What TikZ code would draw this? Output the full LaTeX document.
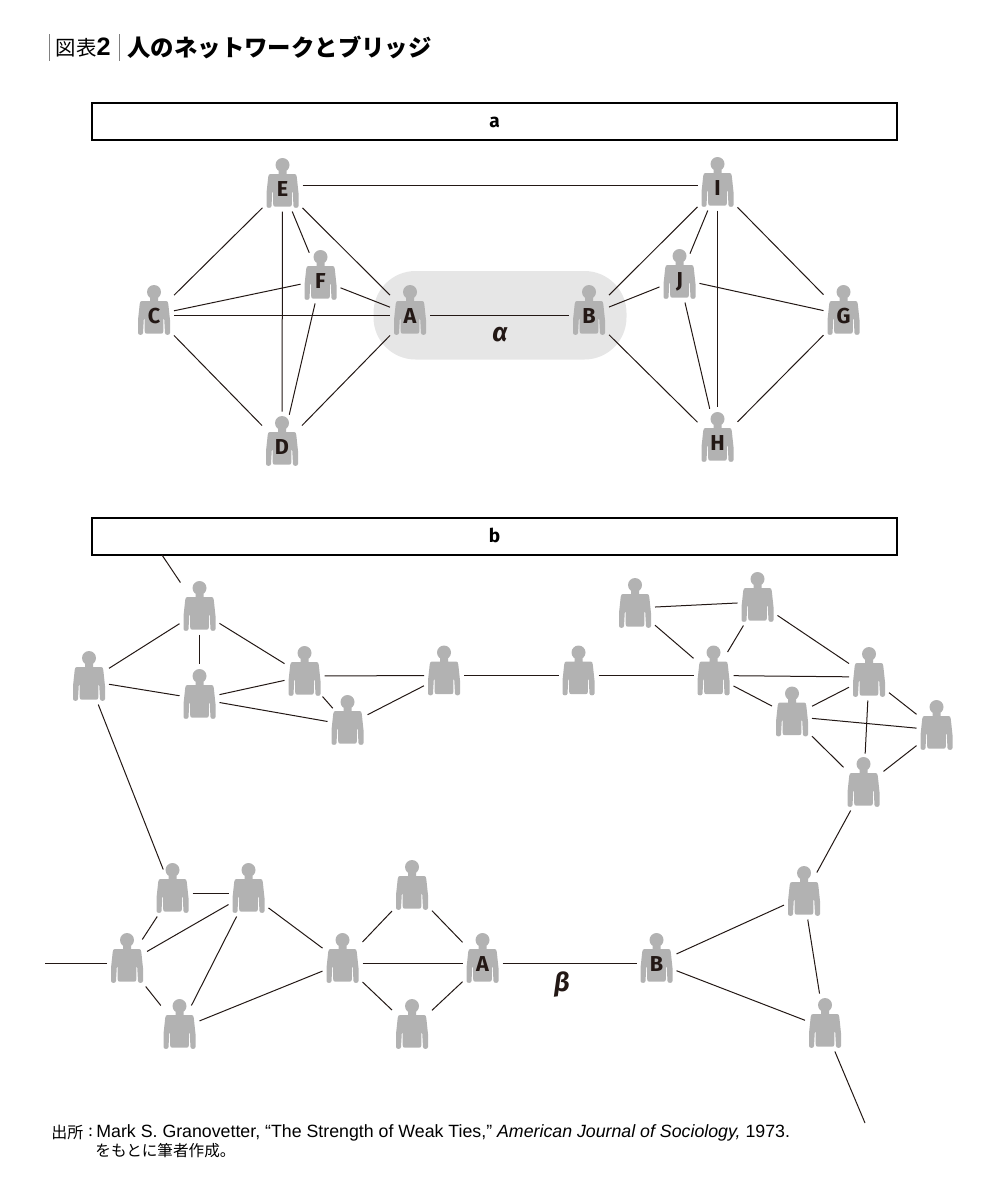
\documentclass[tikz,border=0pt]{standalone}
\usepackage{fontspec}
\setmainfont{Fira Sans}
\newfontfamily\cjk{Noto Sans CJK JP}
\newfontfamily\footfont{Liberation Sans}
\definecolor{figgray}{RGB}{178,178,178}
\definecolor{pillgray}{RGB}{230,230,230}
\definecolor{inkblack}{RGB}{35,24,21}
\tikzset{
    person/.style={draw=none, rectangle, inner sep=0pt, outer sep=0pt, minimum width=20pt, minimum height=23.5pt, text height=8pt, text depth=0pt, font=\fontsize{10.8}{11}\bfseries, text=inkblack},
    link/.style={inkblack, line width=0.5pt},
    tohead/.style={shorten >=#1},
    headbox/.style={draw=black, line width=1pt, rectangle, minimum width=402.5pt, minimum height=18.25pt, inner sep=0pt, text height=6.4pt, text depth=0pt, font=\fontsize{9.5}{10}\bfseries},
    greek/.style={inner sep=0pt, font=\fontsize{13}{13}\bfseries\itshape, text=inkblack},
    bar/.style={line width=0.5pt, gray}
}
\newcommand{\person}[4]{
    \fill[figgray, shift={(#2,#3)}] (0,-23) circle (7)
        (-4,-18) -- (4,-18) -- (4,-14) -- (12,-14) .. controls (13.5,-14) and (14,-13) .. (14.3,-11)
        -- (16,5) -- (16,18) .. controls (16,20.5) and (11,20.5) .. (11,18) -- (10.2,4) -- (9.4,4) -- (9.4,16)
        .. controls (9.4,18) and (8.5,18.7) .. (7,18.7) -- (-7,18.7) .. controls (-8.5,18.7) and (-9.4,18) .. (-9.4,16)
        -- (-9.4,4) -- (-10.2,4) -- (-11,18) .. controls (-11,20.5) and (-16,20.5) .. (-16,18) -- (-16,5)
        -- (-14.3,-11) .. controls (-14,-13) and (-13.5,-14) .. (-12,-14) -- (-4,-14) -- cycle;
    \node[person] (#1) at (#2,#3) {#4};
}
\begin{document}
\begin{tikzpicture}[x=0.5pt, y=-0.5pt]
    \useasboundingbox (0,0) rectangle (1000,1183);

    % title
    \draw[bar] (49.5,34) -- (49.5,61);
    \draw[bar] (119,34) -- (119,61);
    \node[anchor=west, inner sep=0pt] (title-no) at (55.5,48) {\fontsize{10.2}{11}\cjk 図表\bfseries\fontsize{12.6}{13}\fontspec{Liberation Sans}2};
    \node[anchor=west, inner sep=0pt] (title) at (127,47) {\fontsize{11.7}{12}\cjk\bfseries 人のネットワークとブリッジ};

    % panel a
    \node[headbox] (head-a) at (494.5,121.5) {a};
    \fill[pillgray, rounded corners=21pt] (373.5,271) rectangle (626.5,359.5);

    \person{a-e}{282.5}{188}{E}
    \person{a-i}{717.5}{187}{I}
    \person{a-f}{320.5}{280}{F}
    \person{a-j}{679.5}{279}{J}
    \person{a-c}{154}{315}{C}
    \person{a-a}{410}{315}{A}
    \person{a-b}{589}{315}{B}
    \person{a-g}{843.5}{315}{G}
    \person{a-d}{282}{446}{D}
    \person{a-h}{717.5}{442}{H}
    \node[greek] (alpha) at (500,335) {α};

    \draw[link] ([yshift=1.5pt]a-e.east) -- ([yshift=1pt]a-i.west);
    \draw[link] (a-e) -- (a-c);
    \draw[link, tohead=2pt] (a-e) -- (a-f);
    \draw[link] (a-e) -- (a-a);
    \draw[link, tohead=5.5pt] (a-e) -- (a-d);
    \draw[link] (a-f) -- (a-c);
    \draw[link] (a-f) -- (a-a);
    \draw[link, tohead=4pt] (a-f) -- (a-d);
    \draw[link] (a-c) -- (a-a);
    \draw[link] (a-c) -- (a-d);
    \draw[link] (a-a) -- (a-d);
    \draw[link] (a-a) -- (a-b);
    \draw[link] (a-b) -- (a-i);
    \draw[link] (a-b) -- (a-j);
    \draw[link] (a-b) -- (a-h);
    \draw[link, tohead=1pt] (a-i) -- (a-j);
    \draw[link, tohead=6pt] (a-i) -- (a-h);
    \draw[link] (a-i) -- (a-g);
    \draw[link] (a-j) -- (a-g);
    \draw[link, tohead=5pt] (a-j) -- (a-h);
    \draw[link] (a-h) -- (a-g);

    % panel b
    \node[headbox] (head-b) at (494.5,536.5) {b};

    \person{b-p1}{199.5}{611}{}
    \person{b-p2}{89}{681}{}
    \person{b-p3}{199.5}{699}{}
    \person{b-p4}{304.5}{676}{}
    \person{b-p5}{347.5}{725}{}
    \person{b-p6}{444}{675.5}{}
    \person{b-p7}{578.5}{675.5}{}
    \person{b-p8}{635}{608}{}
    \person{b-p9}{757.5}{602}{}
    \person{b-p10}{713.5}{675.5}{}
    \person{b-p11}{869}{677}{}
    \person{b-p12}{792}{716.5}{}
    \person{b-p13}{936.5}{730}{}
    \person{b-p14}{863.5}{787}{}
    \person{b-p15}{804}{896}{}
    \person{b-p16}{825}{1028}{}
    \person{b-b}{656.5}{963}{B}
    \person{b-a}{482.5}{963}{A}
    \person{b-q1}{412}{890}{}
    \person{b-q2}{412}{1029}{}
    \person{b-q3}{342.5}{963}{}
    \person{b-q4}{248.5}{893}{}
    \person{b-q5}{172.5}{893}{}
    \person{b-q6}{127}{963}{}
    \person{b-q7}{179.5}{1029}{}
    \node[greek] (beta) at (562,985) {β};

    \coordinate (end-top) at (162,555);
    \coordinate (end-left) at (45,963);
    \coordinate (end-right) at (865,1123);

    \draw[link, tohead=3pt] (end-top) -- (b-p1);
    \draw[link] (b-p1) -- (b-p2);
    \draw[link, tohead=6pt] (b-p1) -- (b-p3);
    \draw[link] (b-p1) -- (b-p4);
    \draw[link] (b-p2) -- (b-p3);
    \draw[link] (b-p3) -- (b-p4);
    \draw[link] (b-p3) -- (b-p5);
    \draw[link, shorten <=-1.5pt, tohead=-4pt] (b-p4) -- (b-p5);
    \draw[link] (b-p4) -- (b-p6);
    \draw[link] (b-p5) -- (b-p6);
    \draw[link] (b-p6) -- (b-p7);
    \draw[link] (b-p7) -- (b-p10);
    \draw[link] (b-p8) -- (b-p9);
    \draw[link] (b-p8) -- (b-p10);
    \draw[link] (b-p9) -- (b-p10);
    \draw[link] (b-p9) -- (b-p11);
    \draw[link] (b-p10) -- (b-p11);
    \draw[link] (b-p10) -- (b-p12);
    \draw[link] (b-p11) -- (b-p12);
    \draw[link] (b-p11) -- (b-p13);
    \draw[link, tohead=5pt] (b-p11) -- (b-p14);
    \draw[link] (b-p12) -- (b-p13);
    \draw[link] (b-p12) -- (b-p14);
    \draw[link] (b-p13) -- (b-p14);
    \draw[link] (b-p14) -- (b-p15);
    \draw[link] (b-p15) -- (b-b);
    \draw[link, tohead=5.5pt] (b-p15) -- (b-p16);
    \draw[link] (b-b) -- (b-p16);
    \draw[link] (b-p16) -- (end-right);
    \draw[link] (b-a) -- (b-b);
    \draw[link] (b-p2) -- (b-q5);
    \draw[link] (b-q5) -- (b-q4);
    \draw[link] (b-q5) -- (b-q6);
    \draw[link] (b-q4) -- (b-q6);
    \draw[link] (b-q4) -- (b-q7);
    \draw[link] (b-q4) -- (b-q3);
    \draw[link] (b-q6) -- (b-q7);
    \draw[link] (b-q6) -- (end-left);
    \draw[link] (b-q3) -- (b-q7);
    \draw[link] (b-q3) -- (b-q1);
    \draw[link] (b-q3) -- (b-q2);
    \draw[link] (b-q3) -- (b-a);
    \draw[link] (b-q1) -- (b-a);
    \draw[link] (b-q2) -- (b-a);

    % source
    \node[anchor=west, inner sep=0pt] (src-no) at (51,1132) {\fontsize{8}{10}\cjk 出所};
    \node[anchor=west, inner sep=0pt] (src-colon) at (88,1132) {\fontsize{8}{10}\cjk :};
    \node[anchor=west, inner sep=0pt] (src) at (96,1132.5) {\fontsize{8.88}{10}\footfont Mark S. Granovetter, “The Strength of Weak Ties,” \itshape American Journal of Sociology,\upshape{} 1973.};
    \node[anchor=west, inner sep=0pt] (src-2) at (95,1151) {\fontsize{7.8}{10}\cjk をもとに筆者作成。};
\end{tikzpicture}
\end{document}
